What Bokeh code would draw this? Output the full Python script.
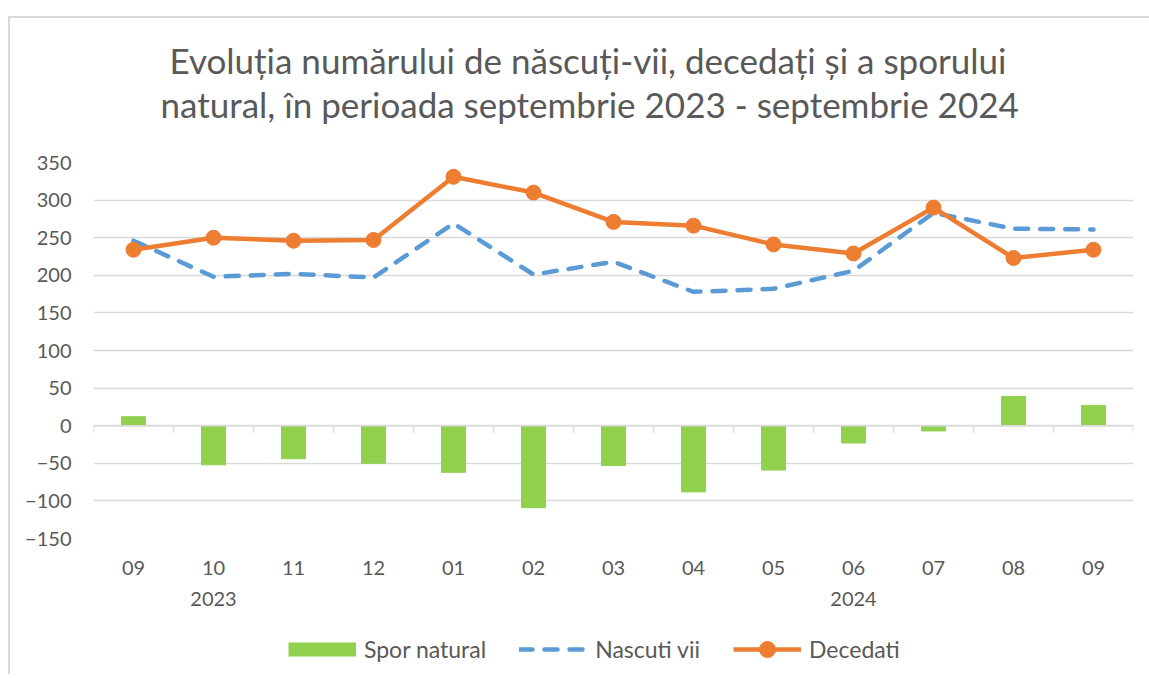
import numpy as np
from bokeh.plotting import figure
from bokeh.layouts import column
from bokeh.models import (LinearAxis, FixedTicker, Title, Legend, LegendItem,
                          Range1d, Span)
from bokeh.embed import file_html
from bokeh.resources import INLINE

# ---- data ----
months = ["09", "10", "11", "12", "01", "02", "03", "04", "05", "06", "07", "08", "09"]
year_labels = {1: "2023", 9: "2024"}
nascuti_vii = [246, 198, 202, 197, 269, 201, 218, 178, 182, 206, 283, 262, 261]
decedati = [234, 250, 246, 247, 331, 310, 271, 266, 241, 229, 290, 223, 234]
spor_natural = [12, -52, -44, -50, -62, -109, -53, -88, -59, -23, -7, 39, 27]
y_ticks = [-150, -100, -50, 0, 50, 100, 150, 200, 250, 300, 350]

FONT = "Lato"
TXT = "#595959"
GRID = "#d9d9d9"
GREEN, BLUE, ORANGE = "#92D050", "#5B9BD5", "#ED7D31"

x = np.arange(len(months))

p = figure(width=1131, height=598, output_backend="svg", toolbar_location=None,
           x_range=Range1d(-0.5, len(months) - 0.5), y_range=Range1d(-150, 350),
           x_axis_type=None, title_location=None,
           min_border_left=83, min_border_right=8, min_border_top=144, min_border_bottom=78)
p.outline_line_color = None
p.background_fill_color = "white"
p.border_fill_color = "white"

# y axis
yax = p.yaxis[0]
yax.ticker = FixedTicker(ticks=y_ticks)
yax.axis_line_color = None
yax.major_tick_line_color = None
yax.minor_tick_line_color = None
yax.major_label_standoff = 16
yax.major_label_text_font = FONT
yax.major_label_text_font_size = "20px"
yax.major_label_text_color = TXT
p.ygrid.ticker = FixedTicker(ticks=y_ticks)
p.ygrid.grid_line_color = GRID
p.ygrid.grid_line_width = 1.5

# zero line with category boundary ticks
p.add_layout(Span(location=0, dimension="width", line_color=GRID, line_width=1.5))
bounds = np.arange(len(months) + 1) - 0.5
p.segment(x0=bounds, x1=bounds, y0=np.zeros(len(bounds)), y1=np.full(len(bounds), -9.5),
          line_color=GRID, line_width=1.5)

# month labels
xax = LinearAxis(ticker=FixedTicker(ticks=list(x)),
                 major_label_overrides={int(i): m for i, m in zip(x, months)})
xax.axis_line_color = None
xax.major_tick_line_color = None
xax.minor_tick_line_color = None
xax.major_label_standoff = 16
xax.major_label_text_font = FONT
xax.major_label_text_font_size = "20px"
xax.major_label_text_color = TXT
p.add_layout(xax, "below")

# year labels
yrax = LinearAxis(ticker=FixedTicker(ticks=list(year_labels.keys())),
                  major_label_overrides=year_labels)
yrax.axis_line_color = None
yrax.major_tick_line_color = None
yrax.minor_tick_line_color = None
yrax.major_label_standoff = 8
yrax.major_label_text_font = FONT
yrax.major_label_text_font_size = "20px"
yrax.major_label_text_color = TXT
p.add_layout(yrax, "below")

# glyphs
bars = p.vbar(x=x, top=spor_natural, bottom=0, width=0.3, color=GREEN)
l_nas = p.line(x, nascuti_vii, line_color=BLUE, line_width=4.5,
               line_dash="13 12", line_cap="round", line_join="round")
l_dec = p.line(x, decedati, line_color=ORANGE, line_width=4.5, line_join="round")
s_dec = p.scatter(x, decedati, size=15, color=ORANGE)

# titles (closest to the frame first)
spacer = Title(text=" ", text_font_size="1px", standoff=35)
t2 = Title(text="natural, în perioada septembrie 2023 - septembrie 2024", align="left",
           text_font=FONT, text_font_size="35px", text_font_style="normal",
           text_color=TXT, standoff=0, offset=67)
t1 = Title(text="Evoluția numărului de născuți-vii, decedați și a sporului", align="left",
           text_font=FONT, text_font_size="35px", text_font_style="normal",
           text_color=TXT, standoff=0, offset=76)
p.add_layout(spacer, "above")
p.add_layout(t2, "above")
p.add_layout(t1, "above")

# legend strip below the chart (legend-only proxies, no visible data)
lg = figure(width=1131, height=58, output_backend="svg", toolbar_location=None,
            x_range=Range1d(0, 1), y_range=Range1d(0, 1),
            x_axis_type=None, y_axis_type=None, min_border=0)
lg.outline_line_color = None
lg.grid.visible = False
nan = [np.nan]
k_spor = lg.line(nan, nan, line_color=GREEN, line_width=14, line_cap="butt")
k_nas = lg.line(nan, nan, line_color=BLUE, line_width=4.5, line_dash="13 12", line_cap="round")
k_dec = lg.line(nan, nan, line_color=ORANGE, line_width=4.5)
k_decm = lg.scatter(nan, nan, size=16, color=ORANGE)

legend = Legend(items=[LegendItem(label="Spor natural", renderers=[k_spor]),
                       LegendItem(label="Nascuti vii", renderers=[k_nas]),
                       LegendItem(label="Decedati", renderers=[k_dec, k_decm])],
                orientation="horizontal", location=(195, 5))
legend.label_text_font = FONT
legend.label_text_font_size = "23px"
legend.label_text_color = TXT
legend.glyph_width = 68
legend.glyph_height = 40
legend.label_standoff = 8
legend.spacing = 33
legend.padding = 6
legend.border_line_color = None
legend.background_fill_alpha = 0
lg.add_layout(legend)

layout = column(p, lg, spacing=0,
                styles={"margin-left": "8px", "margin-top": "16px", "padding-right": "8px",
                        "border-left": "2px solid #d9d9d9",
                        "border-top": "2px solid #d9d9d9"})

open("out.html", "w").write(file_html(layout, INLINE))
